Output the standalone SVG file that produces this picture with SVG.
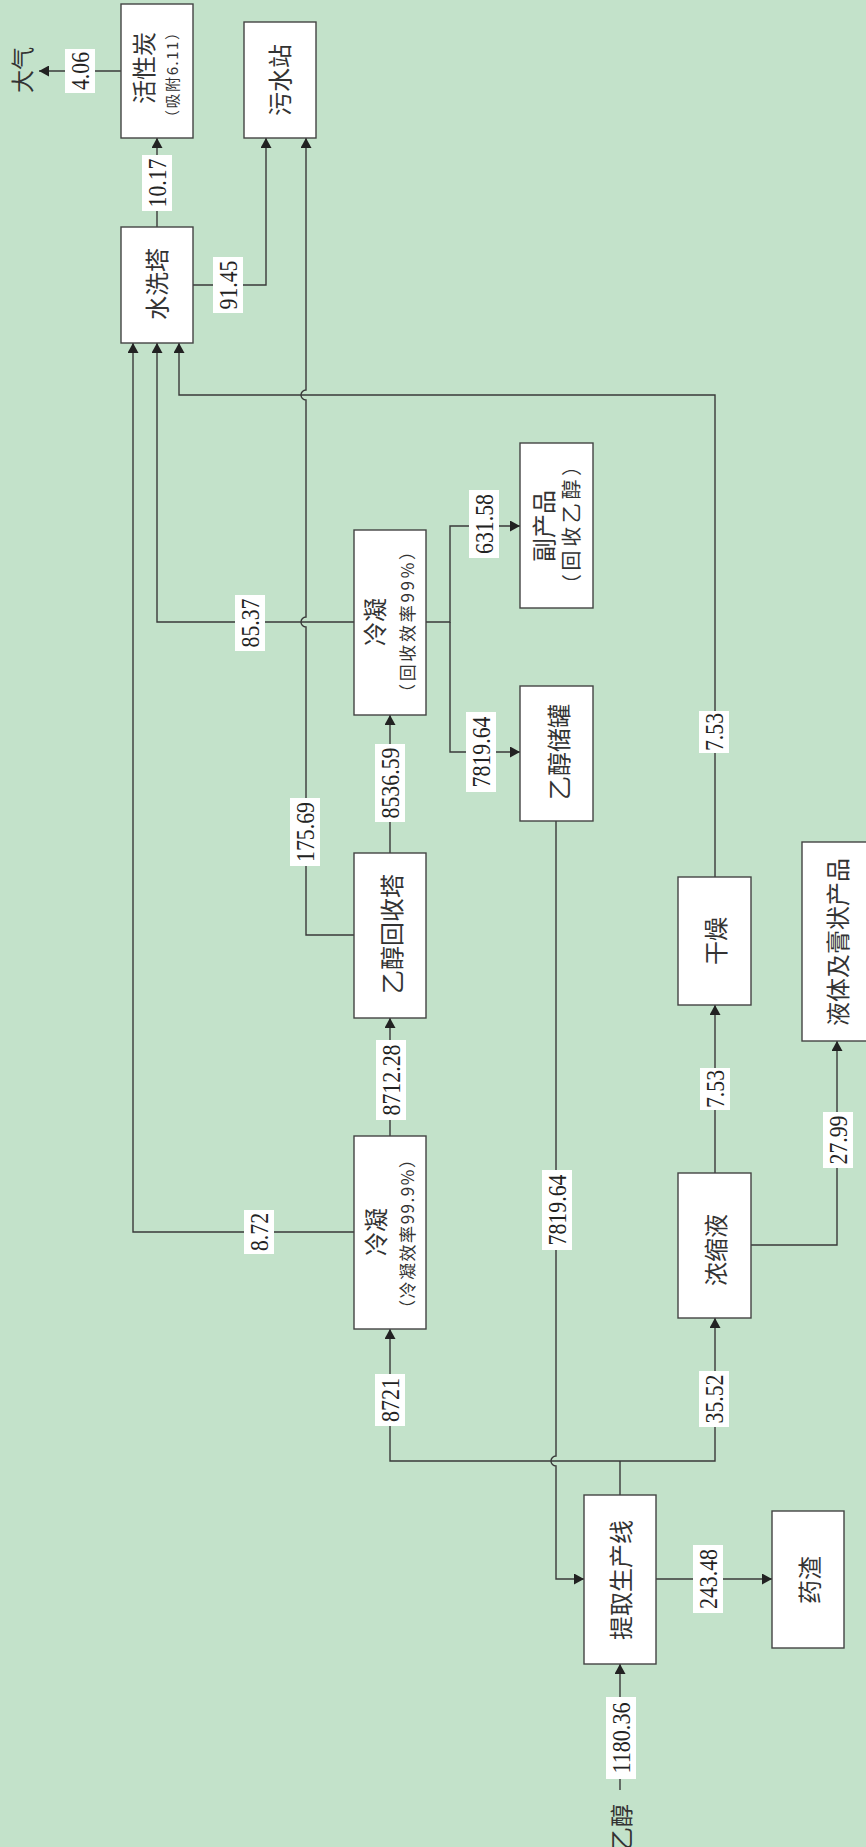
<svg xmlns="http://www.w3.org/2000/svg" width="866" height="1847" viewBox="0 0 866 1847">
<style>
.bg{fill:#c3e2ca}
.box{fill:#fff;stroke:#444;stroke-width:1.4}
.ln{fill:none;stroke:#3a3a3a;stroke-width:1.4}
.lb{fill:#fff}
.num{font-family:"Liberation Serif","Noto Sans CJK SC",serif;font-size:26px;fill:#222;text-anchor:middle}
.cn{font-family:"Noto Sans CJK SC","Liberation Serif",sans-serif;font-size:24px;fill:#333;text-anchor:middle;dominant-baseline:central}
.cs{font-family:"Noto Sans CJK SC","Liberation Serif",sans-serif;font-size:17px;fill:#333;text-anchor:middle;dominant-baseline:central}
</style>
<defs>
<marker id="ah" viewBox="0 0 10 10" refX="10" refY="5" markerWidth="10" markerHeight="11" markerUnits="userSpaceOnUse" orient="auto" preserveAspectRatio="none">
<path d="M0,0 L10,5 L0,10 Z" fill="#222"/>
</marker>
</defs>
<rect class="bg" x="0" y="0" width="866" height="1847"/>

<g id="connectors">
<path class="ln" d="M121,71 H39" marker-end="url(#ah)"/>
<path class="ln" d="M157,227 V138" marker-end="url(#ah)"/>
<path class="ln" d="M193,285 H266 V138" marker-end="url(#ah)"/>
<path class="ln" d="M354,935 H306 V627 A5,5 0 0 1 306,617 V400 A5,5 0 0 1 306,390 V138" marker-end="url(#ah)"/>
<path class="ln" d="M354,622 H157 V343" marker-end="url(#ah)"/>
<path class="ln" d="M354,1232 H133 V343" marker-end="url(#ah)"/>
<path class="ln" d="M715,877 V395 H179 V343" marker-end="url(#ah)"/>
<path class="ln" d="M390,853 V715" marker-end="url(#ah)"/>
<path class="ln" d="M426,622 H450 V526 H520" marker-end="url(#ah)"/>
<path class="ln" d="M450,622 V752 H520" marker-end="url(#ah)"/>
<path class="ln" d="M390,1136 V1018" marker-end="url(#ah)"/>
<path class="ln" d="M556,821 V1456 A5,5 0 0 0 556,1466 V1579 H584" marker-end="url(#ah)"/>
<path class="ln" d="M620,1495 V1461"/>
<path class="ln" d="M620,1461 H390 V1329" marker-end="url(#ah)"/>
<path class="ln" d="M620,1461 H715 V1318" marker-end="url(#ah)"/>
<path class="ln" d="M715,1173 V1005" marker-end="url(#ah)"/>
<path class="ln" d="M751,1245 H837 V1041" marker-end="url(#ah)"/>
<path class="ln" d="M656,1579 H772" marker-end="url(#ah)"/>
<path class="ln" d="M620,1790 V1664" marker-end="url(#ah)"/>

<g transform="translate(80,71) rotate(-90)"><rect class="lb" x="-22" y="-15" width="44" height="30"/><text class="num" y="9" textLength="38" lengthAdjust="spacingAndGlyphs">4.06</text></g>
<g transform="translate(157,183) rotate(-90)"><rect class="lb" x="-28" y="-15" width="56" height="30"/><text class="num" y="9" textLength="49" lengthAdjust="spacingAndGlyphs">10.17</text></g>
<g transform="translate(228,285) rotate(-90)"><rect class="lb" x="-28" y="-15" width="56" height="30"/><text class="num" y="9" textLength="49" lengthAdjust="spacingAndGlyphs">91.45</text></g>
<g transform="translate(250,623) rotate(-90)"><rect class="lb" x="-28" y="-15" width="56" height="30"/><text class="num" y="9" textLength="49" lengthAdjust="spacingAndGlyphs">85.37</text></g>
<g transform="translate(484,524) rotate(-90)"><rect class="lb" x="-34" y="-15" width="68" height="30"/><text class="num" y="9" textLength="60" lengthAdjust="spacingAndGlyphs">631.58</text></g>
<g transform="translate(481,752) rotate(-90)"><rect class="lb" x="-40" y="-15" width="80" height="30"/><text class="num" y="9" textLength="71" lengthAdjust="spacingAndGlyphs">7819.64</text></g>
<g transform="translate(390,783) rotate(-90)"><rect class="lb" x="-39" y="-15" width="78" height="30"/><text class="num" y="9" textLength="71" lengthAdjust="spacingAndGlyphs">8536.59</text></g>
<g transform="translate(305,832) rotate(-90)"><rect class="lb" x="-34" y="-15" width="68" height="30"/><text class="num" y="9" textLength="60" lengthAdjust="spacingAndGlyphs">175.69</text></g>
<g transform="translate(391,1080) rotate(-90)"><rect class="lb" x="-40" y="-15" width="80" height="30"/><text class="num" y="9" textLength="71" lengthAdjust="spacingAndGlyphs">8712.28</text></g>
<g transform="translate(259,1232) rotate(-90)"><rect class="lb" x="-22" y="-15" width="44" height="30"/><text class="num" y="9" textLength="38" lengthAdjust="spacingAndGlyphs">8.72</text></g>
<g transform="translate(714,732) rotate(-90)"><rect class="lb" x="-21" y="-15" width="42" height="30"/><text class="num" y="9" textLength="38" lengthAdjust="spacingAndGlyphs">7.53</text></g>
<g transform="translate(715,1089) rotate(-90)"><rect class="lb" x="-21" y="-15" width="42" height="30"/><text class="num" y="9" textLength="38" lengthAdjust="spacingAndGlyphs">7.53</text></g>
<g transform="translate(557,1210) rotate(-90)"><rect class="lb" x="-40" y="-15" width="80" height="30"/><text class="num" y="9" textLength="71" lengthAdjust="spacingAndGlyphs">7819.64</text></g>
<g transform="translate(838,1140) rotate(-90)"><rect class="lb" x="-28" y="-15" width="56" height="30"/><text class="num" y="9" textLength="49" lengthAdjust="spacingAndGlyphs">27.99</text></g>
<g transform="translate(390,1400) rotate(-90)"><rect class="lb" x="-26" y="-15" width="52" height="30"/><text class="num" y="9" textLength="44" lengthAdjust="spacingAndGlyphs">8721</text></g>
<g transform="translate(714,1399) rotate(-90)"><rect class="lb" x="-28" y="-15" width="56" height="30"/><text class="num" y="9" textLength="49" lengthAdjust="spacingAndGlyphs">35.52</text></g>
<g transform="translate(708,1579) rotate(-90)"><rect class="lb" x="-34" y="-15" width="68" height="30"/><text class="num" y="9" textLength="60" lengthAdjust="spacingAndGlyphs">243.48</text></g>
<g transform="translate(621,1738) rotate(-90)"><rect class="lb" x="-41" y="-15" width="82" height="30"/><text class="num" y="9" textLength="71" lengthAdjust="spacingAndGlyphs">1180.36</text></g>
</g>

<g id="n-daqi"><text class="cn" style="font-size:23px" transform="translate(21,70) rotate(-90)">大气</text></g>
<g id="n-huoxingtan"><rect class="box" x="121" y="4" width="72" height="134"/><text class="cn" transform="translate(142,68) rotate(-90)">活性炭</text><text class="cs" style="font-size:15px" textLength="100" lengthAdjust="spacing" transform="translate(171,75) rotate(-90)">（吸附6.11）</text></g>
<g id="n-wushuizhan"><rect class="box" x="244" y="22" width="72" height="116"/><text class="cn" transform="translate(278,80) rotate(-90)">污水站</text></g>
<g id="n-shuixita"><rect class="box" x="121" y="227" width="72" height="116"/><text class="cn" transform="translate(155,284) rotate(-90)">水洗塔</text></g>
<g id="n-lengning1"><rect class="box" x="354" y="530" width="72" height="185"/><text class="cn" transform="translate(373,622) rotate(-90)">冷凝</text><text class="cs" textLength="158" lengthAdjust="spacing" transform="translate(406,622) rotate(-90)">（回收效率99%）</text></g>
<g id="n-fuchanpin"><rect class="box" x="520" y="443" width="73" height="165"/><text class="cn" transform="translate(542,526) rotate(-90)">副产品</text><text class="cs" style="font-size:20px" textLength="138" lengthAdjust="spacing" transform="translate(570,525) rotate(-90)">（回收乙醇）</text></g>
<g id="n-chuguan"><rect class="box" x="520" y="686" width="73" height="135"/><text class="cn" transform="translate(557,752) rotate(-90)">乙醇储罐</text></g>
<g id="n-huishouta"><rect class="box" x="354" y="853" width="72" height="165"/><text class="cn" transform="translate(390,934) rotate(-90)">乙醇回收塔</text></g>
<g id="n-lengning2"><rect class="box" x="354" y="1136" width="72" height="193"/><text class="cn" transform="translate(374,1232) rotate(-90)">冷凝</text><text class="cs" textLength="166" lengthAdjust="spacing" transform="translate(406,1234) rotate(-90)">（冷凝效率99.9%）</text></g>
<g id="n-ganzao"><rect class="box" x="678" y="877" width="73" height="128"/><text class="cn" transform="translate(714,941) rotate(-90)">干燥</text></g>
<g id="n-nongsuoye"><rect class="box" x="678" y="1173" width="73" height="145"/><text class="cn" transform="translate(714,1250) rotate(-90)">浓缩液</text></g>
<g id="n-yeti"><rect class="box" x="802" y="842" width="80" height="199"/><text class="cn" transform="translate(836,942) rotate(-90)">液体及膏状产品</text></g>
<g id="n-tiqu"><rect class="box" x="584" y="1495" width="72" height="169"/><text class="cn" transform="translate(619,1580) rotate(-90)">提取生产线</text></g>
<g id="n-yaozha"><rect class="box" x="772" y="1511" width="72" height="137"/><text class="cn" transform="translate(808,1580) rotate(-90)">药渣</text></g>
<g id="n-yichun"><text class="cn" style="font-size:23px" transform="translate(620,1827) rotate(-90)">乙醇</text></g>
</svg>
